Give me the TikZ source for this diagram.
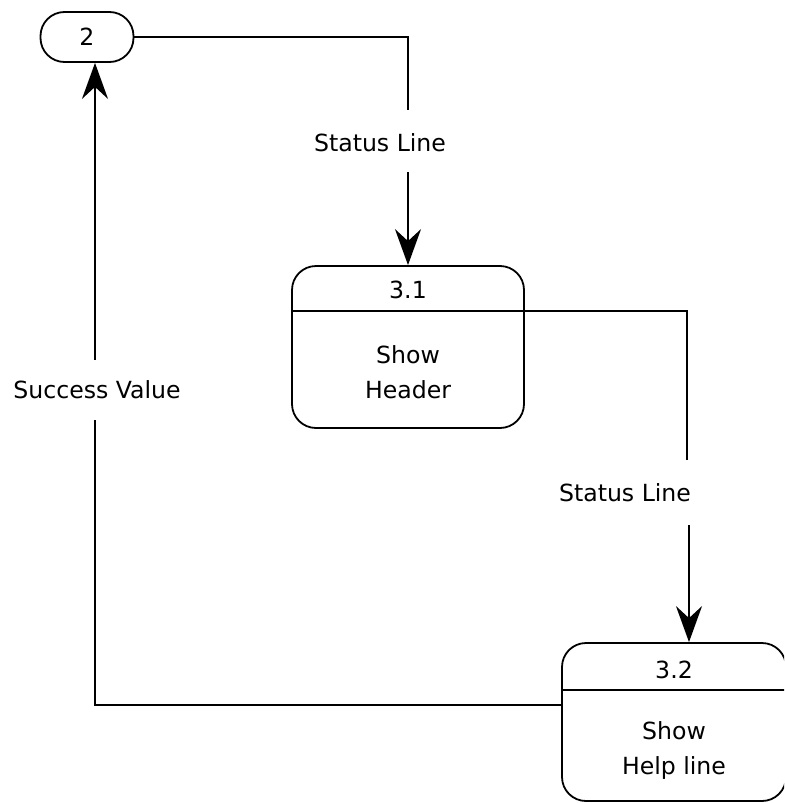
\documentclass[tikz,border=0pt]{standalone}
\usepackage{fontspec}
\setmainfont{DejaVu Sans}
\usetikzlibrary{arrows.meta,positioning}

\begin{document}
\begin{tikzpicture}[
        x=0.5pt, y=-0.5pt,
        line width=0.9pt,
        every node/.style={font=\fontsize{11.8}{17.5}\selectfont, align=center},
        terminal/.style={draw, rounded corners=12pt, minimum width=46.5pt, minimum height=25pt},
        process/.style={draw, rounded corners=12pt, minimum width=116pt, minimum height=81pt},
        process2/.style={draw, rounded corners=12pt, minimum width=112pt, minimum height=79pt},
        flow/.style={-{Stealth[length=18pt, width=13pt, inset=6pt]}}
    ]

    \useasboundingbox (0,0) rectangle (784,803);
    \clip (0,0) rectangle (784,803);

    % Nodes
    \node[terminal] (ext) at (87,37) {2};

    \node[process] (p31) at (408,347) {};
    \draw (p31.west |- 0,311) -- (p31.east |- 0,311);
    \node (id31) at (408,290) {3.1};
    \node (name31) at (408,372) {Show\\Header};

    \node[process2] (p32) at (674,722) {};
    \draw (p32.west |- 0,690) -- (p32.east |- 0,690);
    \node (id32) at (674,670) {3.2};
    \node (name32) at (674,750) {Show\\Help line};

    \node (lab1) at (380,143) {Status Line};
    \node (lab2) at (625,493) {Status Line};
    \node (lab3) at (97,390) {Success Value};

    \coordinate (c1) at (408,110);
    \coordinate (c2) at (408,172);
    \coordinate (c3) at (687,460);
    \coordinate (c4) at (689,525);
    \coordinate (c5) at (95,420);
    \coordinate (c6) at (95,360);

    % Edges
    \draw (ext.east) -| (c1);
    \draw[flow] (c2) -- (c2 |- p31.north);

    \draw (p31.east |- 0,311) -| (c3);
    \draw[flow] (c4) -- (c4 |- p32.north);

    \draw (p32.west |- 0,705) -| (c5);
    \draw[flow] (c6) -- (c6 |- ext.south);

\end{tikzpicture}
\end{document}
